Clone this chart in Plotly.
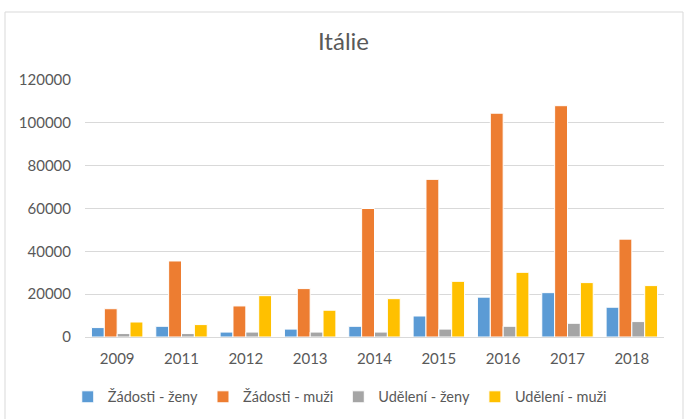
import plotly.graph_objects as go

years = ["2009", "2011", "2012", "2013", "2014", "2015", "2016", "2017", "2018"]
zadosti_zeny = [4400, 5000, 2300, 3700, 5000, 9800, 18600, 20700, 13900]
zadosti_muzi = [13200, 35500, 14500, 22600, 60000, 73600, 104500, 108000, 45700]
udeleni_zeny = [1600, 1600, 2300, 2300, 2300, 3700, 5000, 6400, 7200]
udeleni_muzi = [7000, 5800, 19300, 12500, 17900, 26000, 30200, 25400, 24000]

series = [
    ("Žádosti - ženy", zadosti_zeny, "#5B9BD5"),
    ("Žádosti - muži", zadosti_muzi, "#ED7D31"),
    ("Udělení - ženy", udeleni_zeny, "#A5A5A5"),
    ("Udělení - muži", udeleni_muzi, "#FFC000"),
]

fig = go.Figure()
for name, vals, col in series:
    fig.add_trace(go.Bar(
        x=years, y=vals, name=name,
        marker=dict(color=col, line=dict(color="white", width=1)),
    ))

font_family = "Lato, 'Open Sans', sans-serif"
fig.update_layout(
    width=687, height=419,
    margin=dict(l=85, r=23, t=80, b=82, autoexpand=False),
    paper_bgcolor="white", plot_bgcolor="white",
    barmode="group", bargap=0.2, bargroupgap=0.0,
    font=dict(family=font_family, color="#595959", size=14),
    title=dict(text="Itálie", x=0.5, xanchor="center", y=1 - 42 / 419, yanchor="middle",
               font=dict(size=24, color="#595959", family=font_family)),
    legend=dict(orientation="h", x=0.44, xanchor="center", y=-0.233, yanchor="middle",
                font=dict(size=14.5, color="#595959"), itemwidth=30, traceorder="normal",
                bgcolor="rgba(0,0,0,0)"),
    xaxis=dict(showgrid=False, showline=True, linecolor="#D9D9D9", linewidth=1,
               ticks="outside", ticklen=8, tickcolor="rgba(0,0,0,0)", automargin=False,
               tickfont=dict(size=15, color="#595959"), fixedrange=True),
    yaxis=dict(range=[0, 120000], dtick=20000, showgrid=True, gridcolor="#D9D9D9",
               gridwidth=1, zeroline=False, showline=False, tickformat="d", automargin=False,
               ticks="outside", ticklen=10, tickcolor="rgba(0,0,0,0)",
               tickfont=dict(size=15, color="#595959")),
    shapes=[dict(type="rect", xref="paper", yref="paper",
                 x0=(5 - 85) / 579, x1=(683 - 85) / 579,
                 y0=(337 - 430) / 257, y1=(337 - 12) / 257,
                 line=dict(color="#D9D9D9", width=1), fillcolor="rgba(0,0,0,0)", layer="below")],
)

fig.write_html("out.html", post_script="document.body.style.margin='0';",
               config={"displayModeBar": False})
